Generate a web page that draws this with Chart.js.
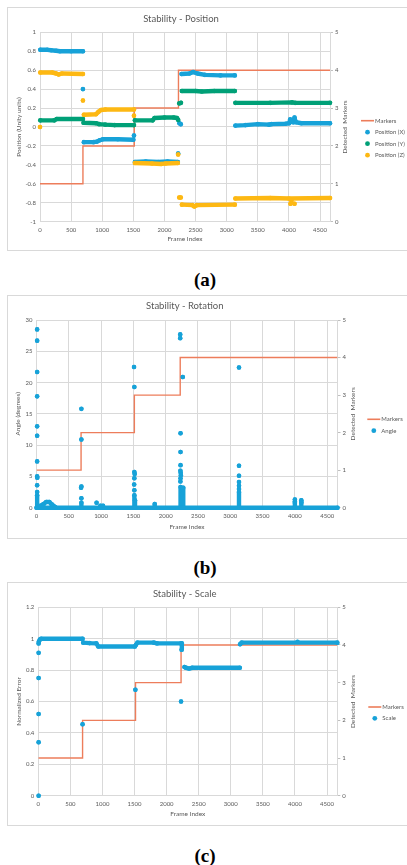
<!DOCTYPE html>
<html>
<head>
<meta charset="utf-8">
<script src="https://cdn.jsdelivr.net/npm/chart.js@4.4.1/dist/chart.umd.min.js"></script>
<style>
  body { margin: 0; background: #fff; width: 407px; height: 865px; overflow: hidden; position: relative; }
  .box { position: absolute; left: 7px; width: 399px; border: 1px solid #d9d9d9; }
  .box canvas { display: block; }
  .cap { position: absolute; left: 0; width: 410px; text-align: center;
         font: bold 19px "Liberation Serif", "DejaVu Serif", serif; line-height: 20px; color: #000; }
</style>
</head>
<body>
<div class="box" style="top:7px"><canvas id="posChart" width="399" height="242"></canvas></div>
<div class="cap" style="top:270px">(a)</div>
<div class="box" style="top:295px"><canvas id="rotChart" width="399" height="242"></canvas></div>
<div class="cap" style="top:558px">(b)</div>
<div class="box" style="top:582px"><canvas id="scaleChart" width="399" height="242"></canvas></div>
<div class="cap" style="top:846px">(c)</div>
<script>
// frame axis and detected marker count (step line, right axis)
const frameMax = 4660;
const frameTicks = [0, 500, 1000, 1500, 2000, 2500, 3000, 3500, 4000, 4500];
const markerFrames = [0, 690, 1515, 2225, 4660];
const markerCounts = [1, 2, 3, 4, 4];

// Stability - Position: dense runs (bands) and lone points (dots), [frame, value]
const posXBands = [
  [[5, 0.815], [120, 0.815], [180, 0.81], [260, 0.805], [320, 0.8], [500, 0.8], [690, 0.8]],
  [[705, -0.16], [860, -0.16], [910, -0.155], [960, -0.14], [1010, -0.13], [1250, -0.13], [1500, -0.135]],
  [[1525, -0.37], [1700, -0.365], [1900, -0.37], [2050, -0.365], [2215, -0.37]],
  [[2240, 0.04], [2262, 0.03]],
  [[2275, 0.56], [2400, 0.565], [2460, 0.58], [2530, 0.565], [2650, 0.55], [2900, 0.545], [3130, 0.545]],
  [[3140, 0.015], [3300, 0.02], [3500, 0.03], [3680, 0.025], [3720, 0.03], [3950, 0.035], [4005, 0.04],
   [4020, 0.08], [4045, 0.06], [4070, 0.05], [4090, 0.09], [4115, 0.05], [4200, 0.04], [4660, 0.04]]
];
const posXDots = [[690, 0.4], [1510, -0.09], [2220, -0.28], [4090, 0.1]];

const posYBands = [
  [[5, 0.07], [230, 0.07], [270, 0.085], [690, 0.085]],
  [[700, 0.045], [900, 0.04], [950, 0.03], [1050, 0.025], [1200, 0.02], [1510, 0.02]],
  [[1525, 0.07], [1810, 0.07], [1840, 0.095], [2000, 0.1], [2150, 0.1], [2200, 0.095], [2220, 0.075]],
  [[2238, 0.25], [2265, 0.255]],
  [[2280, 0.38], [2500, 0.38], [2600, 0.375], [2800, 0.38], [3130, 0.38]],
  [[3140, 0.255], [3700, 0.255], [4050, 0.26], [4100, 0.255], [4660, 0.255]]
];
const posYDots = [];

const posZBands = [
  [[5, 0.575], [200, 0.575], [260, 0.565], [300, 0.555], [350, 0.565], [690, 0.56]],
  [[705, 0.13], [900, 0.135], [940, 0.16], [980, 0.18], [1050, 0.185], [1510, 0.185]],
  [[1525, -0.38], [1800, -0.385], [1950, -0.39], [2020, -0.385], [2215, -0.38]],
  [[2238, -0.745], [2262, -0.745]],
  [[2280, -0.82], [2450, -0.825], [2480, -0.84], [2520, -0.825], [3130, -0.82]],
  [[3140, -0.755], [3700, -0.75], [4000, -0.755], [4660, -0.75]]
];
const posZDots = [[0, 0], [690, 0.28], [1510, 0.12], [2220, -0.29], [4025, -0.81], [4090, -0.81], [4040, -0.78]];

// Stability - Rotation (degrees)
const angleBands = [
  [[0, 0], [4660, 0]],
  [[10, 2.0], [10, 0]],
  [[60, 0.3], [110, 0.6], [150, 0.9], [200, 0.9], [240, 0.5], [290, 0.1]],
  [[695, 0.8], [695, 0]],
  [[1515, 2.0], [1515, 0]],
  [[1525, 1.2], [1525, 0]],
  [[1830, 0.6], [1830, 0]],
  [[2230, 3.3], [2230, 0]],
  [[2250, 2.2], [2250, 0]],
  [[2272, 3.2], [2272, 0]],
  [[3135, 2.5], [3135, 0]],
  [[4000, 0.8], [4000, 0]],
  [[4100, 0.8], [4100, 0]]
];
const angleDots = [
  [10, 28.5], [10, 26.7], [10, 21.7], [10, 17.8], [10, 13.0], [10, 11.5], [10, 7.4], [10, 5.0], [12, 4.8], [10, 3.6], [10, 2.5],
  [695, 15.8], [695, 10.9], [695, 3.4], [690, 3.2], [695, 1.5],
  [930, 0.8], [990, 0.3], [1030, 0.3],
  [1510, 22.5], [1515, 19.3], [1515, 5.7], [1520, 5.4], [1515, 4.7], [1512, 3.7], [1515, 2.8],
  [2225, 27.7], [2225, 27.1], [2230, 11.9], [2230, 8.9], [2230, 6.8], [2228, 5.9], [2232, 5.6], [2235, 5.2], [2230, 4.7], [2228, 4.2],
  [2265, 20.9], [2262, 3.0],
  [3135, 22.4], [3135, 6.7], [3135, 5.1], [3135, 4.1], [3135, 3.5], [3135, 3.0],
  [4000, 1.3], [4000, 1.0], [4100, 1.2], [4100, 0.9]
];

// Stability - Scale (normalized error)
const scaleBands = [
  [[8, 0.98], [25, 0.995], [45, 1.0], [690, 1.0]],
  [[700, 0.975], [800, 0.972], [905, 0.97], [935, 0.95], [1505, 0.95]],
  [[1520, 0.96], [1545, 0.975], [1800, 0.975], [1850, 0.97], [2225, 0.97]],
  [[2233, 0.93], [2237, 0.97]],
  [[2278, 0.82], [2300, 0.815], [2350, 0.81], [2400, 0.815], [3140, 0.815]],
  [[3145, 0.965], [3170, 0.975], [4660, 0.975]]
];
const scaleDots = [[5, 0], [5, 0.34], [5, 0.52], [5, 0.75], [5, 0.91], [5, 0.97], [690, 0.455], [1513, 0.675], [2225, 0.6], [4040, 0.98]];

const GRID = '#d9d9d9';
const TEXT = '#595959';
const MARKER_COLOR = '#ed7d5b';
const BLUE = '#17a2d8';
const GREEN = '#00a077';
const YELLOW = '#fdb813';

Chart.defaults.font.family = 'Lato, "Open Sans", sans-serif';
Chart.defaults.color = TEXT;

// bands are joined runs, dots stand alone; a null y breaks the line
function toPoints(bands, dots) {
  const pts = [];
  bands.forEach(b => {
    b.forEach(([x, y]) => pts.push({x, y}));
    pts.push({x: b[b.length - 1][0], y: null});
  });
  dots.forEach(([x, y]) => {
    pts.push({x, y});
    pts.push({x, y: null});
  });
  return pts;
}

// right-hand axis title (reads bottom to top) and the legend
const sideDecor = {
  id: 'sideDecor',
  afterDraw(chart, args, opts) {
    const ctx = chart.ctx;
    const area = chart.chartArea;
    ctx.save();
    ctx.fillStyle = TEXT;
    ctx.font = '6.5px Lato';
    ctx.textAlign = 'center';
    ctx.textBaseline = 'middle';
    ctx.translate(chart.scales.y2.left + opts.titleOffset, (area.top + area.bottom) / 2);
    ctx.rotate(-Math.PI / 2);
    ctx.fillText(opts.title, 0, 0);
    ctx.restore();

    ctx.save();
    ctx.font = '6px Lato';
    ctx.textAlign = 'left';
    ctx.textBaseline = 'middle';
    chart.data.datasets.forEach((ds, i) => {
      const y = opts.legendY + i * opts.legendGap;
      const x = opts.legendX;
      if (ds.yAxisID === 'y2') {
        ctx.strokeStyle = ds.borderColor;
        ctx.lineWidth = 1.6;
        ctx.beginPath();
        ctx.moveTo(x, y);
        ctx.lineTo(x + 13, y);
        ctx.stroke();
      } else {
        ctx.fillStyle = ds.pointBackgroundColor;
        ctx.beginPath();
        ctx.arc(x + 6.5, y, 2.4, 0, Math.PI * 2);
        ctx.fill();
      }
      ctx.fillStyle = TEXT;
      ctx.fillText(ds.label, x + 14, y);
    });
    ctx.restore();
  }
};

const fmt = v => String(Math.round(v * 10) / 10);

function buildChart(id, g, titleText, yTitle, yMin, yMax, yStep, series) {
  const datasets = [{
    label: 'Markers',
    data: markerFrames.map((f, i) => ({x: f, y: markerCounts[i]})),
    yAxisID: 'y2',
    showLine: true,
    stepped: true,
    borderColor: MARKER_COLOR,
    backgroundColor: MARKER_COLOR,
    borderWidth: 1.4,
    pointRadius: 0,
    pointHoverRadius: 0,
    order: 9
  }];
  series.forEach((s, i) => datasets.push({
    label: s.label,
    data: toPoints(s.bands, s.dots),
    showLine: true,
    spanGaps: false,
    borderColor: s.color,
    backgroundColor: s.color,
    pointBackgroundColor: s.color,
    pointBorderWidth: 0,
    pointRadius: 2.3,
    pointHoverRadius: 2.3,
    borderWidth: 4.4,
    borderCapStyle: 'round',
    borderJoinStyle: 'round',
    clip: 6,
    order: series.length - i
  }));

  return new Chart(document.getElementById(id), {
    type: 'scatter',
    data: { datasets },
    options: {
      responsive: false,
      animation: false,
      devicePixelRatio: 1,
      layout: { padding: { left: 0, top: 0, bottom: 0, right: g.w - g.right - 24 } },
      plugins: {
        legend: { display: false },
        tooltip: { enabled: false },
        title: {
          display: true,
          text: titleText,
          color: TEXT,
          font: { size: 9.5, weight: 'normal' },
          padding: { top: g.titleY - 5.7, bottom: g.top - g.titleY - 5.7 }
        },
        sideDecor: {
          title: 'Detected  Markers',
          titleOffset: g.sideX,
          legendX: g.legendX,
          legendY: g.legendY,
          legendGap: g.legendGap
        }
      },
      scales: {
        x: {
          type: 'linear',
          min: 0,
          max: frameMax,
          afterFit: s => { s.height = g.h - g.bottom; },
          afterBuildTicks: s => { s.ticks = frameTicks.map(v => ({ value: v })); },
          grid: { color: GRID, drawTicks: false },
          border: { color: GRID },
          ticks: {
            autoSkip: false, maxRotation: 0,
            padding: 4.5, font: { size: 6 }, callback: v => String(v)
          },
          title: {
            display: true, text: 'Frame Index', font: { size: 6.5 },
            padding: { top: 0, bottom: g.h - g.xTitleY - 3.9 }
          }
        },
        y: {
          min: yMin,
          max: yMax,
          afterFit: s => { s.width = g.left; },
          grid: { color: GRID, drawTicks: false },
          border: { color: GRID },
          ticks: { stepSize: yStep, padding: 4, font: { size: 6 }, callback: fmt },
          title: {
            display: true, text: yTitle, font: { size: 6.5 },
            padding: { top: g.yTitleX - 3.9, bottom: 0 }
          }
        },
        y2: {
          position: 'right',
          min: 0,
          max: 5,
          afterFit: s => { s.width = 24; },
          grid: { drawOnChartArea: false, drawTicks: true, tickLength: 3, tickColor: '#bfbfbf' },
          border: { color: GRID },
          ticks: { stepSize: 1, padding: 2, font: { size: 6 } }
        }
      }
    },
    plugins: [sideDecor]
  });
}

buildChart('posChart',
  { w: 399, h: 242, left: 32, right: 322, top: 24.3, bottom: 213.7, titleY: 11, xTitleY: 231,
    yTitleX: 11, sideX: 15, legendX: 353, legendY: 112.7, legendGap: 11.5 },
  'Stability - Position', 'Position (Unity units)', -1, 1, 0.2,
  [
    { label: 'Position (X)', color: BLUE, bands: posXBands, dots: posXDots },
    { label: 'Position (Y)', color: GREEN, bands: posYBands, dots: posYDots },
    { label: 'Position (Z)', color: YELLOW, bands: posZBands, dots: posZDots }
  ]);

buildChart('rotChart',
  { w: 399, h: 242, left: 28.5, right: 329.5, top: 24, bottom: 211.7, titleY: 10, xTitleY: 230.7,
    yTitleX: 10.3, sideX: 15.5, legendX: 359.3, legendY: 123.3, legendGap: 11.4 },
  'Stability - Rotation', 'Angle (degrees)', 0, 30, 5,
  [ { label: 'Angle', color: BLUE, bands: angleBands, dots: angleDots } ]);

buildChart('scaleChart',
  { w: 399, h: 242, left: 30.3, right: 329.3, top: 24.3, bottom: 212.7, titleY: 11, xTitleY: 230.7,
    yTitleX: 11.3, sideX: 16, legendX: 360.3, legendY: 124, legendGap: 11.3 },
  'Stability - Scale', 'Normalized Error', 0, 1.2, 0.2,
  [ { label: 'Scale', color: BLUE, bands: scaleBands, dots: scaleDots } ]);
</script>
</body>
</html>
